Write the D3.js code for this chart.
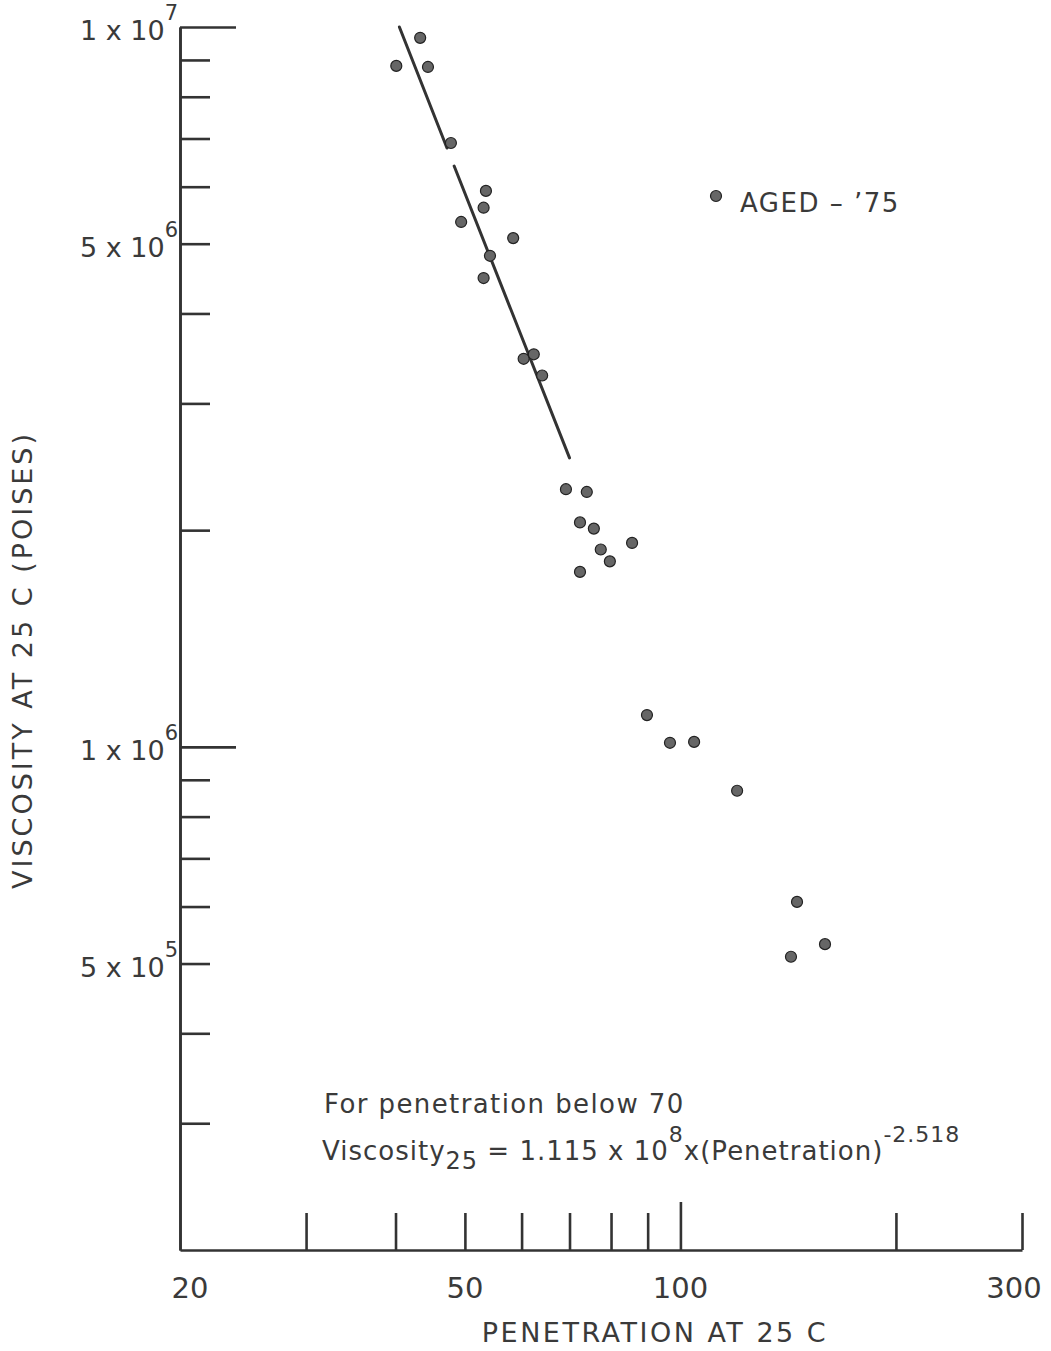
<!DOCTYPE html>
<html>
<head>
<meta charset="utf-8">
<script src="https://cdn.jsdelivr.net/npm/d3@7"></script>
<style>
  html, body { margin: 0; padding: 0; background: #fff; }
  svg text { font-family: 'DejaVu Sans', sans-serif; fill: #3a3a3a; }
</style>
</head>
<body>
<div id="chart"></div>
<script>
// penetration at 25 C (x) and viscosity at 25 C in poises (y)
const penetration = [40.1, 43.3, 44.4, 47.8, 49.4, 53.5, 53.1, 54.2, 53.1, 58.4,
    60.4, 62.4, 64.1, 69.2, 74.0, 72.4, 75.7, 72.4, 77.4, 79.7,
    85.6, 89.8, 96.7, 104.5, 120.0, 145.5, 142.7, 159.2];
const viscosity = [8.83e6, 9.66e6, 8.80e6, 6.90e6, 5.36e6, 5.92e6, 5.61e6, 4.81e6, 4.48e6, 5.09e6,
    3.46e6, 3.51e6, 3.28e6, 2.28e6, 2.26e6, 2.05e6, 2.01e6, 1.75e6, 1.88e6, 1.81e6,
    1.92e6, 1.107e6, 1.013e6, 1.016e6, 8.69e5, 6.09e5, 5.11e5, 5.32e5];

// fitted line, drawn in two pieces (the pen lifts near 47-48)
const fitSegments = [
    [[40.5, 1.0e7], [47.2, 6.79e6]],
    [[48.3, 6.41e6], [70, 2.52e6]]
];

const xTicks = [30, 40, 50, 60, 70, 80, 90, 100, 200, 300];
const xTickLabels = [20, 50, 100, 300];
const yMinorTicks = [2e6, 3e6, 4e6, 5e6, 6e6, 7e6, 8e6, 9e6, 3e5, 4e5, 5e5, 6e5, 7e5, 8e5, 9e5];
const yMajorTicks = [1e6, 1e7];
const yTickLabels = [
    { v: 1e7, mant: '1 x 10', exp: '7' },
    { v: 5e6, mant: '5 x 10', exp: '6' },
    { v: 1e6, mant: '1 x 10', exp: '6' },
    { v: 5e5, mant: '5 x 10', exp: '5' }
];

const width = 1051, height = 1351;
const ink = '#333';

const svg = d3.select('#chart').append('svg')
    .attr('width', width)
    .attr('height', height);

const x = d3.scaleLog().domain([20, 300]).range([180, 1022]);
const y = d3.scaleLog().domain([2e5, 1e7]).range([1250, 27]);

// y axis: minor and major ticks point into the plot
const yMinor = d3.axisRight(y).tickValues(yMinorTicks).tickSize(30).tickSizeOuter(0).tickFormat('');
const yMajor = d3.axisRight(y).tickValues(yMajorTicks).tickSize(56).tickSizeOuter(0).tickFormat('');
[yMinor, yMajor].forEach(ax => {
    const g = svg.append('g').attr('transform', `translate(${x(20)},0)`).call(ax);
    g.selectAll('path, line').attr('stroke', ink).attr('stroke-width', 2.6);
});

// x axis ticks point upward, the 100 one a bit longer
const xAx = d3.axisTop(x).tickValues(xTicks).tickSize(37).tickSizeOuter(0).tickFormat('');
const gx = svg.append('g').attr('transform', `translate(0,${y(2e5)})`).call(xAx);
gx.selectAll('path, line').attr('stroke', ink).attr('stroke-width', 2.6);
gx.selectAll('.tick line').attr('y2', d => d === 100 ? -48 : -37);

// x tick labels
svg.append('g').selectAll('text')
    .data(xTickLabels)
    .join('text')
    .attr('x', d => x(d) + (d === 20 ? 10 : d === 300 ? -8 : 0))
    .attr('y', 1298)
    .attr('text-anchor', 'middle')
    .style('font-size', '29px')
    .text(d => d);

// y tick labels with superscript exponent
const yl = svg.append('g').selectAll('text')
    .data(yTickLabels)
    .join('text')
    .attr('x', 178)
    .attr('y', d => y(d.v) + 13)
    .attr('text-anchor', 'end')
    .style('font-size', '27px');
yl.append('tspan').text(d => d.mant);
yl.append('tspan').attr('dy', -20).style('font-size', '21px').text(d => d.exp);

// axis titles
svg.append('text')
    .attr('x', 655).attr('y', 1342)
    .attr('text-anchor', 'middle')
    .style('font-size', '27px')
    .style('letter-spacing', '2.5px')
    .text('PENETRATION AT 25 C');

svg.append('text')
    .attr('transform', 'translate(32,660) rotate(-90)')
    .attr('text-anchor', 'middle')
    .style('font-size', '27px')
    .style('letter-spacing', '3px')
    .text('VISCOSITY AT 25 C (POISES)');

// fitted line
const line = d3.line().x(d => x(d[0])).y(d => y(d[1]));
svg.append('g').selectAll('path')
    .data(fitSegments)
    .join('path')
    .attr('d', line)
    .attr('fill', 'none')
    .attr('stroke', ink)
    .attr('stroke-width', 3)
    .attr('stroke-linecap', 'round');

// data points
svg.append('g').selectAll('circle')
    .data(penetration.map((p, i) => [p, viscosity[i]]))
    .join('circle')
    .attr('cx', d => x(d[0]))
    .attr('cy', d => y(d[1]))
    .attr('r', 5.5)
    .attr('fill', '#666')
    .attr('stroke', '#222')
    .attr('stroke-width', 1.2);

// legend
svg.append('circle')
    .attr('cx', 716).attr('cy', 196).attr('r', 5.5)
    .attr('fill', '#666').attr('stroke', '#222').attr('stroke-width', 1.2);
svg.append('text')
    .attr('x', 740).attr('y', 212)
    .style('font-size', '26px')
    .style('letter-spacing', '1.5px')
    .text('AGED \u2013 \u201975');

// equation note
svg.append('text')
    .attr('x', 324).attr('y', 1113)
    .style('font-size', '26px')
    .style('letter-spacing', '1.4px')
    .text('For penetration below 70');

const eq = svg.append('text')
    .attr('x', 322).attr('y', 1160)
    .style('font-size', '26px')
    .style('letter-spacing', '1px');
eq.append('tspan').text('Viscosity');
eq.append('tspan').attr('dy', 9).style('font-size', '24px').text('25');
eq.append('tspan').attr('dy', -9).text(' = 1.115 x 10');
eq.append('tspan').attr('dy', -18).style('font-size', '22px').text('8');
eq.append('tspan').attr('dy', 18).text('x(Penetration)');
eq.append('tspan').attr('dy', -18).style('font-size', '22px').text('-2.518');
</script>
</body>
</html>
